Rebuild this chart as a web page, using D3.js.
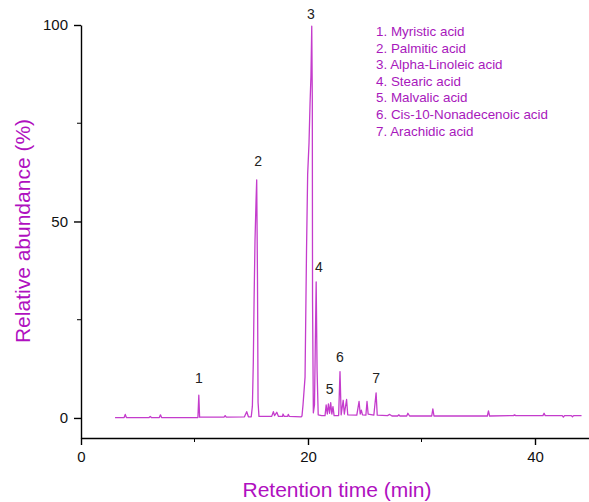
<!DOCTYPE html>
<html>
<head>
<meta charset="utf-8">
<script src="https://cdn.jsdelivr.net/npm/d3@7"></script>
<style>
  body { margin: 0; background: #fff; }
  svg text { font-family: "Liberation Sans", Arial, sans-serif; }
</style>
</head>
<body>
<div id="chart"></div>
<script>
// chromatogram trace: retention time (min) and relative abundance (%)
var retentionTime = [
  3.0, 3.8, 3.9, 4.0, 6.0, 6.1, 6.2, 6.9, 7.0, 7.1, 9.0, 10.3, 10.38, 10.45,
  12.0, 12.6, 12.7, 12.8, 14.4, 14.6, 14.75, 15.0,
  15.1, 15.18, 15.25, 15.33, 15.42, 15.48, 15.55, 15.6, 15.68,
  16.8, 16.95, 17.05, 17.25, 17.4, 17.75, 17.8, 17.9, 18.2, 18.26, 18.35, 19.4,
  19.47, 19.56, 19.74, 19.87, 19.97, 20.09, 20.18, 20.26, 20.33, 20.38, 20.4, 20.47,
  20.57, 20.72, 20.8, 20.9,
  21.2, 21.5, 21.6, 21.7, 21.8, 21.9, 22.0, 22.1, 22.2, 22.3,
  22.7, 22.82, 22.92, 23.1, 23.2, 23.4, 23.5,
  24.3, 24.5, 24.6, 24.7, 24.8, 25.1, 25.2, 25.3, 25.8, 26.0, 26.1,
  27.0, 27.2, 27.4, 27.9, 28.0, 28.1, 28.7, 28.8, 28.95,
  30.9, 31.0, 31.1, 35.8, 35.9, 36.0, 38.1, 38.2, 38.3,
  40.7, 40.8, 40.9, 42.4, 42.5, 42.6, 43.2, 43.3, 43.4, 44.1
];
var abundance = [
  0.1, 0.1, 0.9, 0.1, 0.1, 0.4, 0.1, 0.1, 0.8, 0.1, 0.1, 0.1, 5.8, 0.2,
  0.2, 0.2, 0.6, 0.2, 0.3, 1.6, 0.3, 0.3,
  3.0, 14, 30, 45, 55, 60.6, 35, 4, 0.4,
  0.4, 1.6, 0.6, 1.45, 0.4, 0.4, 1.0, 0.4, 0.4, 0.9, 0.4, 0.3,
  0.5, 3.3, 10.4, 42.7, 62, 70, 80, 87, 99.7, 81, 30, 1.3,
  3.3, 34.6, 12, 0.8,
  0.6, 0.6, 3.3, 1.0, 3.6, 1.2, 3.9, 1.0, 2.9, 0.6,
  0.6, 11.8, 0.8, 4.5, 1.0, 4.7, 0.8,
  0.7, 4.2, 1.0, 2.0, 0.8, 0.7, 4.2, 1.0, 0.7, 6.4, 0.7,
  0.6, 0.9, 0.5, 0.5, 0.8, 0.5, 0.5, 1.2, 0.5,
  0.5, 2.3, 0.5, 0.5, 1.8, 0.5, 0.6, 0.8, 0.6,
  0.6, 1.2, 0.6, 0.6, 0.2, 0.6, 0.6, 0.3, 0.6, 0.6
];

// numbered peaks: label, retention time, height of the label
var peakNumbers = ["1", "2", "3", "4", "5", "6", "7"];
var peakTimes = [10.38, 15.6, 20.26, 20.95, 21.9, 22.82, 26.0];
var peakLabelLevels = [8.8, 64.2, 101.6, 37.2, 6.0, 14.2, 9.0];

var compoundNames = [
  "Myristic acid",
  "Palmitic acid",
  "Alpha-Linoleic acid",
  "Stearic acid",
  "Malvalic acid",
  "Cis-10-Nonadecenoic acid",
  "Arachidic acid"
];

var xMajorTicks = [0, 20, 40];
var xMinorTicks = [10, 30];
var yMajorTicks = [0, 50, 100];
var yMinorTicks = [25, 75];

var initialWidth = 589,
    initialHeight = 502;
var margin = { top: 25, left: 81, bottom: 64, right: 0 };
var height = initialHeight - margin.top - margin.bottom;

var lineColor = "#c43ccc";
var textColor = "#b010c0";
var legendColor = "#a818bc";

var svg = d3.select("#chart").append("svg")
    .attr("width", initialWidth)
    .attr("height", initialHeight);

var x = d3.scaleLinear()
    .domain([0, 45])
    .range([margin.left, margin.left + 45 * 11.35]);

var y = d3.scaleLinear()
    .domain([-5.1, 100])
    .range([margin.top + height, margin.top]);

var trace = retentionTime.map(function(t, i) { return [t, abundance[i]]; });

svg.append("path")
    .datum(trace)
    .attr("fill", "none")
    .attr("stroke", lineColor)
    .attr("stroke-width", 1.3)
    .attr("stroke-linejoin", "round")
    .attr("d", d3.line().x(d => x(d[0])).y(d => y(d[1])));

// axes
var xAxisG = svg.append("g")
    .attr("transform", "translate(0," + y(-5.1) + ")")
    .call(d3.axisBottom(x).tickValues(xMajorTicks).tickSize(7).tickSizeOuter(0).tickPadding(6));

xAxisG.selectAll(".minor")
    .data(xMinorTicks)
    .join("line")
    .attr("class", "minor")
    .attr("x1", d => x(d)).attr("x2", d => x(d))
    .attr("y1", 0).attr("y2", 4)
    .attr("stroke", "#000");

var yAxisG = svg.append("g")
    .attr("transform", "translate(" + margin.left + ",0)")
    .call(d3.axisLeft(y).tickValues(yMajorTicks).tickSize(7).tickSizeOuter(0).tickPadding(6));

yAxisG.selectAll(".minor")
    .data(yMinorTicks)
    .join("line")
    .attr("class", "minor")
    .attr("y1", d => y(d)).attr("y2", d => y(d))
    .attr("x1", 0).attr("x2", -4)
    .attr("stroke", "#000");

svg.selectAll(".domain, .tick line")
    .attr("stroke", "#000")
    .attr("stroke-width", 1.4);

svg.selectAll(".tick text")
    .style("font-size", "15px")
    .style("fill", "#111")
    .style("font-family", "'Liberation Sans', Arial, sans-serif");

// axis titles
svg.append("text")
    .attr("x", 337)
    .attr("y", 497)
    .attr("text-anchor", "middle")
    .style("font-size", "21px")
    .style("fill", textColor)
    .text("Retention time (min)");

svg.append("text")
    .attr("transform", "translate(30,231) rotate(-90)")
    .attr("text-anchor", "middle")
    .style("font-size", "21px")
    .style("fill", textColor)
    .text("Relative abundance (%)");

// peak numbers
svg.selectAll(".peak-label")
    .data(peakNumbers)
    .join("text")
    .attr("class", "peak-label")
    .attr("x", (d, i) => x(peakTimes[i]))
    .attr("y", (d, i) => y(peakLabelLevels[i]))
    .attr("text-anchor", "middle")
    .style("font-size", "14px")
    .style("fill", "#222")
    .text(d => d);

// legend of compounds
svg.selectAll(".legend")
    .data(compoundNames)
    .join("text")
    .attr("class", "legend")
    .attr("x", 376)
    .attr("y", (d, i) => 36 + i * 16.6)
    .style("font-size", "13.4px")
    .style("fill", legendColor)
    .text((d, i) => peakNumbers[i] + ". " + d);
</script>
</body>
</html>
